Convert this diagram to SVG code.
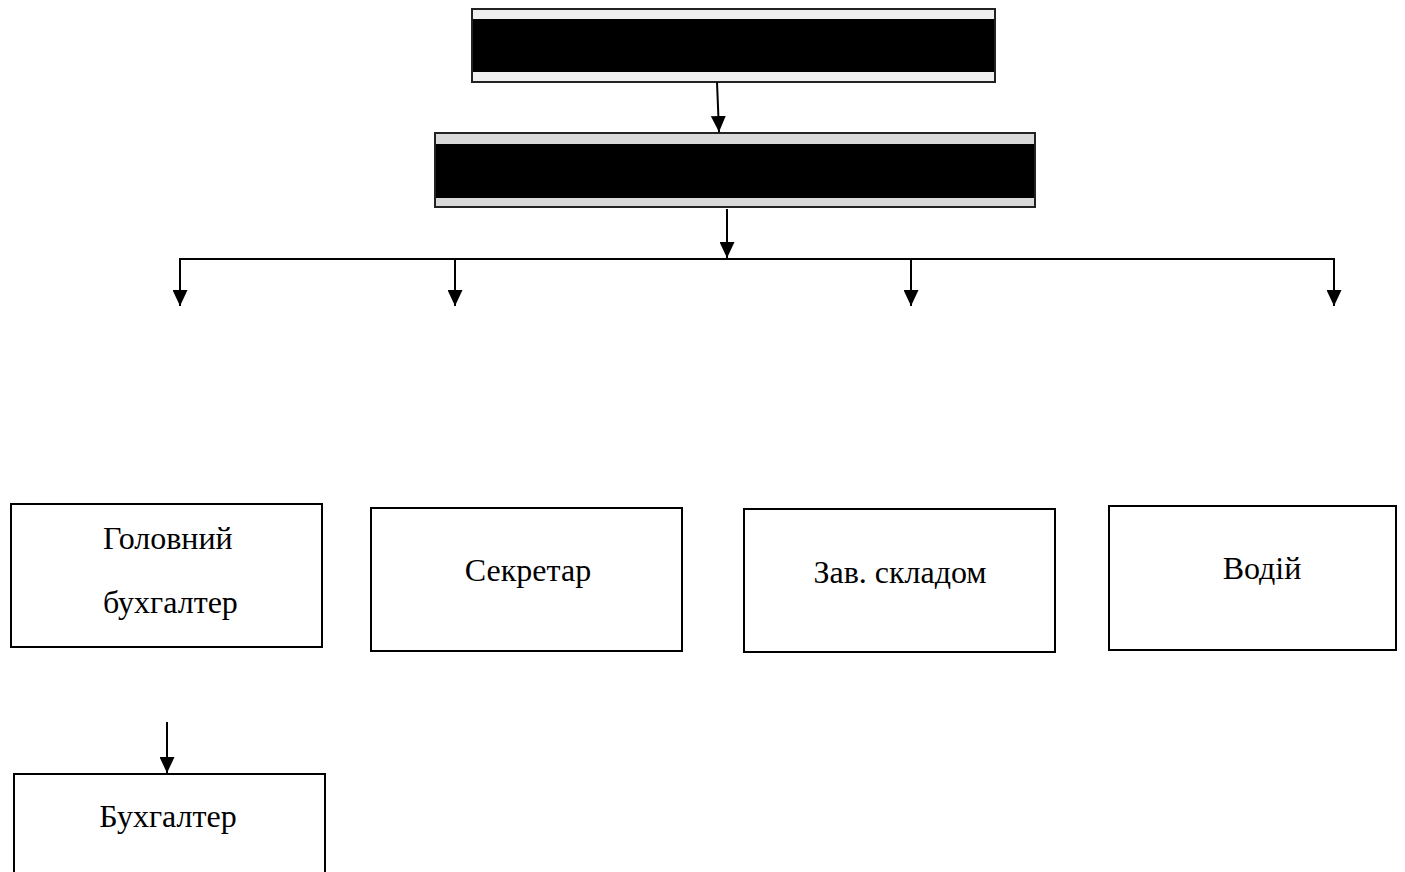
<svg xmlns="http://www.w3.org/2000/svg" width="1405" height="872" viewBox="0 0 1405 872">
<defs>
<marker id="ah" markerWidth="16" markerHeight="15" refX="16" refY="7.5" orient="auto" markerUnits="userSpaceOnUse" viewBox="0 0 16 15">
<polygon points="0,0 16,7.5 0,15" fill="#000"/>
</marker>
<style>
.box{fill:#fff;stroke:#000;stroke-width:2}
.lbl{font-family:"Liberation Serif","Times New Roman",serif;font-size:32px;fill:#000;text-anchor:middle}
.lft{text-anchor:start}
.con{stroke:#000;stroke-width:2;fill:none}
</style>
</defs>
<rect width="1405" height="872" fill="#fff"/>
<g id="node-top">
<rect x="472" y="9" width="523" height="73" fill="#efefef" stroke="#222" stroke-width="2"/>
<rect x="473" y="19" width="521" height="53" fill="#000"/>
</g>
<g id="node-second">
<rect x="435" y="133" width="600" height="74" fill="#d9d9d9" stroke="#222" stroke-width="2"/>
<rect x="436" y="144" width="598" height="54" fill="#000"/>
</g>
<g id="node-chief-accountant">
<rect class="box" x="11" y="504" width="311" height="143"/>
<text class="lbl lft" x="103" y="549">Головний</text>
<text class="lbl lft" x="103" y="613">бухгалтер</text>
</g>
<g id="node-secretary">
<rect class="box" x="371" y="508" width="311" height="143"/>
<text class="lbl" x="528" y="581">Секретар</text>
</g>
<g id="node-warehouse">
<rect class="box" x="744" y="509" width="311" height="143"/>
<text class="lbl" x="900" y="583">Зав. складом</text>
</g>
<g id="node-driver">
<rect class="box" x="1109" y="506" width="287" height="144"/>
<text class="lbl" x="1262" y="579">Водій</text>
</g>
<g id="node-accountant">
<rect class="box" x="14" y="774" width="311" height="110"/>
<text class="lbl" x="168" y="827">Бухгалтер</text>
</g>
<g id="connectors">
<line class="con" x1="717" y1="82" x2="719" y2="132" marker-end="url(#ah)"/>
<line class="con" x1="727" y1="209" x2="727" y2="258" marker-end="url(#ah)"/>
<line class="con" x1="179" y1="259" x2="1335" y2="259"/>
<line class="con" x1="180" y1="259" x2="180" y2="306" marker-end="url(#ah)"/>
<line class="con" x1="455" y1="259" x2="455" y2="306" marker-end="url(#ah)"/>
<line class="con" x1="911" y1="259" x2="911" y2="306" marker-end="url(#ah)"/>
<line class="con" x1="1334" y1="259" x2="1334" y2="306" marker-end="url(#ah)"/>
<line class="con" x1="167" y1="722" x2="167" y2="773" marker-end="url(#ah)"/>
</g>
</svg>
